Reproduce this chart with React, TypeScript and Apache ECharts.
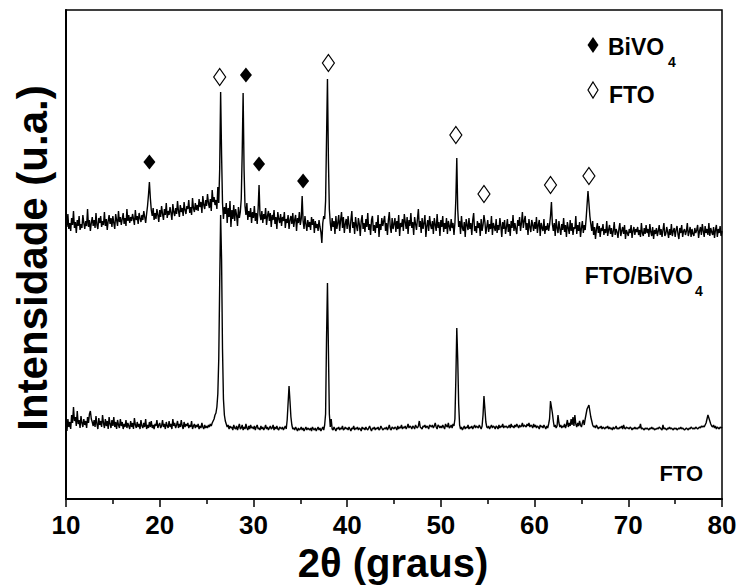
import React, { useEffect, useRef } from "react";
import * as echarts from "echarts";

// 2θ grid of the scans (degrees)
const angleStart = 10;
const angleStep = 0.1;

// FTO/BiVO4 scan, intensity (a.u.), one value per 0.1° from 10° to 80°
const bivoTrace = [
  280,272,285,270,276,268,281,274,288,271,
  277,266,279,273,283,269,275,271,284,276,
  270,278,273,290,272,279,268,276,282,273,
  279,271,286,274,270,281,276,283,272,278,
  274,287,273,280,269,278,284,275,281,272,
  283,276,270,285,279,273,288,277,282,274,
  280,286,275,281,273,290,278,284,276,282,
  278,285,280,274,289,279,283,275,286,281,
  277,284,279,288,282,276,285,293,304,317,
  301,289,283,291,279,286,280,290,284,277,
  289,282,293,285,279,290,284,296,281,288,
  284,292,286,279,295,287,283,291,285,298,
  288,282,294,287,291,283,297,289,285,293,
  290,299,286,292,284,301,291,287,296,289,
  294,288,300,292,297,286,303,294,290,299,
  293,305,296,291,300,288,309,297,302,294,
  299,290,312,296,330,407,345,296,280,292,
  285,296,276,291,282,298,272,289,280,294,
  278,290,284,273,292,281,287,300,345,406,
  330,293,284,296,279,288,282,291,276,287,
  281,293,278,286,275,290,314,284,279,288,
  276,285,280,291,274,283,288,278,286,272,
  284,279,289,275,282,270,287,280,276,285,
  273,282,278,287,271,280,276,284,270,279,
  283,275,286,272,279,284,268,281,276,287,
  274,280,303,278,270,283,275,268,279,272,
  277,269,282,274,280,266,278,271,275,268,
  279,272,267,256,276,283,280,298,360,420,
  340,290,276,268,281,272,278,265,283,270,
  276,284,268,279,287,271,282,266,275,280,
  270,283,274,266,279,288,271,277,265,282,
  273,268,281,275,263,278,284,270,276,267,
  280,272,286,269,275,264,279,283,268,274,
  266,277,271,284,262,275,269,281,273,278,
  283,268,276,264,279,287,272,266,281,270,
  275,281,267,278,270,284,263,276,272,280,
  268,285,277,270,282,265,279,273,286,271,
  277,264,282,275,269,280,290,272,278,266,
  281,270,276,284,262,273,279,268,283,274,
  270,278,265,281,274,268,285,271,277,263,
  279,272,283,267,276,270,281,265,278,273,
  268,280,271,276,264,276,300,341,290,272,
  278,265,283,271,268,277,262,280,274,269,
  281,270,276,264,279,286,268,273,266,278,
  271,276,263,280,268,274,284,277,265,272,
  279,267,275,270,283,264,276,272,268,280,
  266,274,269,281,273,262,277,270,279,265,
  272,280,267,275,263,278,271,284,268,276,
  270,265,279,273,282,268,276,287,271,278,
  283,269,276,264,280,272,267,279,274,268,
  277,270,282,266,274,279,263,276,271,268,
  280,265,273,269,276,268,274,283,297,275,
  268,276,263,280,271,266,278,270,264,275,
  269,281,267,274,262,277,271,265,279,268,
  276,264,272,270,283,265,274,268,277,262,
  271,278,266,274,269,280,294,308,296,283,
  275,268,278,264,272,260,270,276,266,273,
  262,271,268,275,264,270,266,278,263,269,
  274,265,271,262,268,277,264,270,267,261,
  270,276,263,268,272,265,274,260,269,266,
  263,270,266,274,261,268,272,264,270,267,
  272,264,269,262,276,266,263,271,265,274,
  266,270,262,275,267,263,272,260,269,265,
  271,263,268,274,264,270,262,269,276,263,
  265,272,267,261,270,264,275,263,268,271,
  262,269,273,265,260,271,266,274,262,268,
  270,264,268,276,263,267,272,262,270,265,
  263,271,266,269,274,261,268,272,264,275,
  268,262,273,266,270,264,276,263,271,267,
  264,272,261,269,274,262,270,266,273,263,
  268,
];

// FTO scan, intensity (a.u.), one value per 0.1° from 10° to 80°
const ftoTrace = [
  74,68,80,72,77,70,84,76,92,78,
  82,73,88,75,79,71,83,76,72,80,
  74,78,71,82,76,85,88,80,77,73,
  79,72,83,75,70,81,74,78,72,84,
  76,71,80,73,78,70,82,75,71,79,
  73,82,72,77,70,79,74,71,80,73,
  77,70,75,72,79,71,76,73,70,78,
  72,76,70,81,74,71,77,72,75,70,
  79,73,71,76,72,80,70,74,71,77,
  72,78,71,74,70,75,73,79,71,74,
  76,71,73,79,72,75,70,77,73,71,
  78,72,75,70,80,73,76,71,74,78,
  71,75,72,79,73,70,77,72,75,73,
  76,71,74,72,78,70,73,75,71,74,
  72,75,70,73,71,76,72,70,74,71,
  73,71,74,72,75,73,76,78,80,84,
  86,92,105,140,215,284,240,150,100,84,
  78,75,72,74,70,73,71,72,69,74,
  71,70,73,69,72,75,70,71,74,69,
  72,70,75,71,69,73,70,74,71,72,
  70,73,69,72,74,70,71,69,73,70,
  72,69,71,74,70,72,69,71,73,70,
  71,74,69,72,70,73,70,69,72,71,
  70,72,69,71,73,70,79,96,113,98,
  82,74,70,71,69,72,70,68,71,69,
  70,72,69,71,68,70,72,69,71,70,
  69,71,68,72,70,69,71,68,70,72,
  69,71,68,70,72,69,74,85,160,216,
  150,85,72,80,70,69,72,70,68,71,
  70,72,69,71,70,73,69,70,72,70,
  71,69,72,70,68,71,70,73,69,71,
  70,72,69,71,70,68,72,70,71,69,
  72,70,69,71,73,70,68,71,70,72,
  69,71,70,72,69,70,73,71,69,70,
  71,70,72,69,71,74,70,69,72,71,
  70,72,71,69,73,70,72,71,74,70,
  72,71,73,70,72,75,71,73,72,70,
  73,72,70,74,72,71,73,78,72,71,
  70,73,72,74,71,73,72,70,74,73,
  72,74,71,73,76,72,70,74,73,71,
  73,71,74,72,70,75,73,72,76,71,
  72,74,71,75,73,80,120,171,140,95,
  74,70,72,69,71,73,70,72,71,74,
  70,72,71,73,70,72,74,71,73,72,
  71,74,72,70,73,84,103,90,77,72,
  71,73,70,72,74,71,73,72,70,73,
  72,70,74,71,73,72,75,71,73,72,
  73,71,72,74,71,75,72,73,71,74,
  72,75,73,71,74,72,73,76,72,74,
  73,72,75,73,76,72,74,73,71,75,
  72,74,71,73,72,70,74,72,73,71,
  74,72,70,73,71,75,80,98,92,86,
  78,72,74,71,73,84,76,72,74,71,
  73,72,75,71,74,79,72,76,73,80,
  74,82,73,84,75,72,76,73,78,74,
  72,76,79,74,80,85,90,92,94,88,
  82,78,74,72,73,71,74,72,70,72,
  71,73,70,72,71,70,72,71,73,70,
  72,70,71,69,72,70,71,73,70,71,
  70,72,71,73,70,74,71,70,72,71,
  71,70,72,71,69,71,70,72,70,71,
  70,72,71,75,70,71,70,69,71,70,
  71,70,69,71,70,72,70,71,69,70,
  70,71,70,72,71,70,69,74,70,71,
  70,69,71,70,72,70,71,70,69,71,
  70,71,69,70,71,70,72,70,71,70,
  69,70,71,70,69,71,70,72,71,70,
  71,70,72,71,70,71,72,71,73,72,
  73,72,74,76,80,84,81,78,75,73,
  72,74,71,73,70,72,71,70,72,71,
  72,
];

// Peak markers [2θ, intensity]
const bivoMarks = [
  [18.9, 337],
  [29.2, 424],
  [30.6, 335],
  [35.3, 318],
];
const ftoMarks = [
  [26.4, 422],
  [38.0, 436],
  [51.6, 364],
  [54.6, 305],
  [61.7, 314],
  [65.8, 323],
];

const xMin = 10;
const xMax = 80;
const xInterval = 10;
const yMin = 0;
const yMax = 489;

const FONT = '"Liberation Sans", Arial, Helvetica, sans-serif';

function toPairs(values: number[]) {
  return values.map((v, i) => [+(angleStart + i * angleStep).toFixed(1), v]);
}

export default function App() {
  const ref = useRef<HTMLDivElement>(null);

  useEffect(() => {
    document.body.style.margin = "0";
    if (!ref.current) return;
    const chart = echarts.init(ref.current, undefined, { renderer: "svg" });

    const textStyle = (text: string, size: number, align = "left") => ({
      text,
      fontSize: size,
      fontWeight: "bold",
      fontFamily: FONT,
      fill: "#000",
      align,
      verticalAlign: "middle",
    });

    chart.setOption({
      animation: false,
      backgroundColor: "#fff",
      grid: {
        left: 66,
        right: 18,
        top: 10,
        bottom: 88,
        show: true,
        borderColor: "#000",
        borderWidth: 1.5,
        backgroundColor: "transparent",
      },
      xAxis: {
        type: "value",
        min: xMin,
        max: xMax,
        interval: xInterval,
        axisLine: { show: true, onZero: false, lineStyle: { color: "#000", width: 2 } },
        axisTick: { show: true, inside: false, length: 8, lineStyle: { color: "#000", width: 1.5 } },
        minorTick: { show: true, splitNumber: 2, length: 5, lineStyle: { color: "#000", width: 1.5 } },
        splitLine: { show: false },
        minorSplitLine: { show: false },
        axisLabel: {
          color: "#000",
          fontSize: 26,
          fontWeight: "bold",
          fontFamily: FONT,
          margin: 13,
        },
      },
      yAxis: {
        type: "value",
        min: yMin,
        max: yMax,
        axisLine: { show: true, lineStyle: { color: "#000", width: 2 } },
        axisTick: { show: false },
        axisLabel: { show: false },
        splitLine: { show: false },
      },
      series: [
        {
          type: "line",
          data: toPairs(ftoTrace),
          showSymbol: false,
          symbol: "none",
          lineStyle: { color: "#000", width: 1.4 },
          silent: true,
          z: 2,
        },
        {
          type: "line",
          data: toPairs(bivoTrace),
          showSymbol: false,
          symbol: "none",
          lineStyle: { color: "#000", width: 1.4 },
          silent: true,
          z: 3,
        },
        {
          type: "scatter",
          data: bivoMarks,
          symbol: "diamond",
          symbolSize: [12, 15],
          itemStyle: { color: "#000", opacity: 1 },
          z: 5,
        },
        {
          type: "scatter",
          data: ftoMarks,
          symbol: "diamond",
          symbolSize: [12, 17],
          itemStyle: { color: "#fff", borderColor: "#000", borderWidth: 1.2, opacity: 1 },
          z: 5,
        },
      ],
      graphic: [
        {
          type: "polygon",
          shape: { points: [[593, 37], [598.5, 45], [593, 53], [587.5, 45]] },
          style: { fill: "#000" },
          z: 10,
        },
        { type: "text", x: 608, y: 47, style: textStyle("BiVO", 23), z: 10 },
        { type: "text", x: 668, y: 61.5, style: textStyle("4", 14), z: 10 },
        {
          type: "polygon",
          shape: { points: [[593, 82], [598, 90], [593, 98], [588, 90]] },
          style: { fill: "#fff", stroke: "#000", lineWidth: 1.2 },
          z: 10,
        },
        { type: "text", x: 609, y: 95, style: textStyle("FTO", 23), z: 10 },
        { type: "text", x: 693, y: 276, style: textStyle("FTO/BiVO", 23, "right"), z: 10 },
        { type: "text", x: 695, y: 290.5, style: textStyle("4", 14), z: 10 },
        { type: "text", x: 703, y: 473, style: textStyle("FTO", 22, "right"), z: 10 },
        { type: "text", x: 393, y: 563, style: textStyle("2θ (graus)", 40, "center"), z: 10 },
        {
          type: "text",
          x: 32,
          y: 258,
          rotation: Math.PI / 2,
          style: textStyle("Intensidade (u.a.)", 42, "center"),
          z: 10,
        },
      ],
    });

    return () => {
      chart.dispose();
    };
  }, []);

  return <div ref={ref} style={{ width: 740, height: 587 }} />;
}
